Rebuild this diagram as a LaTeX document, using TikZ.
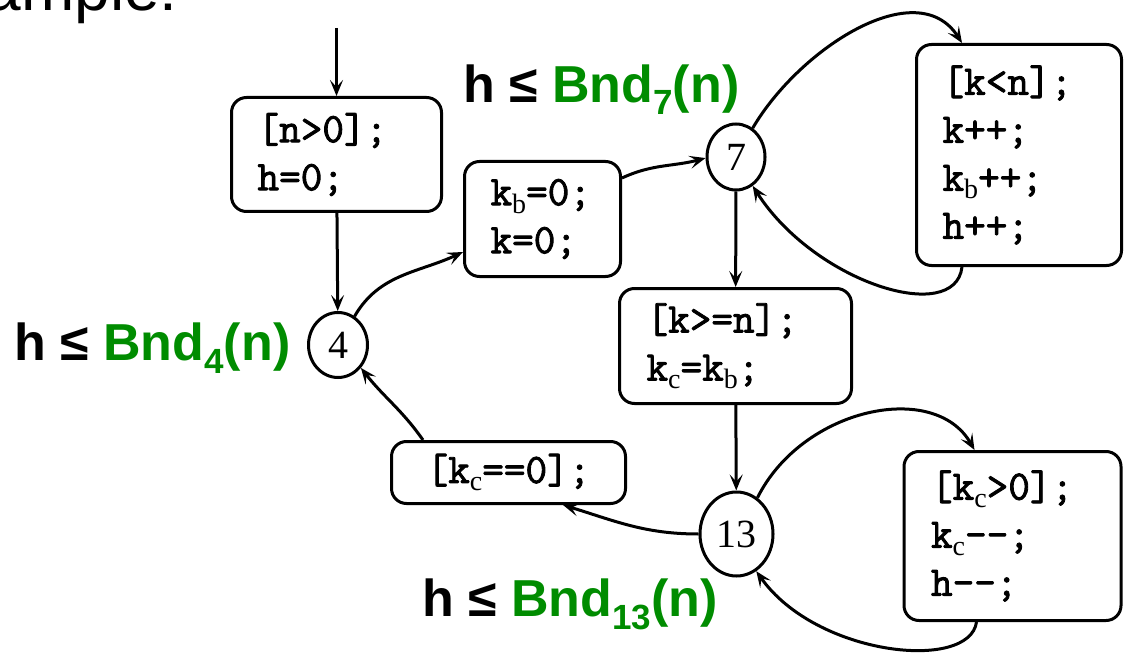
\documentclass[tikz,border=0pt]{standalone}
\usepackage{fontspec}
\usetikzlibrary{shapes.geometric,arrows.meta,calc}
\newfontfamily\lsans{Liberation Sans}
\newfontfamily\tms{Liberation Serif}
\newfontfamily\codefont[FakeBold=2]{Latin Modern Mono}
\definecolor{bndgreen}{RGB}{0,140,0}
\newcommand{\ksub}[1]{\raisebox{-8pt}{\fontsize{28}{28}\tms #1}}
\newcommand{\bndsub}[2]{\raisebox{-#1}{\fontsize{35}{35}\selectfont #2}}
\tikzset{
  box/.style={draw, rounded corners=15pt, line width=3pt,
    font=\fontsize{42}{48}\selectfont\codefont, align=left, inner ysep=0pt},
  st/.style={draw, ellipse, line width=3pt, inner sep=0pt,
    font=\fontsize{40}{40}\selectfont\tms},
  arr/.style={-{Stealth[length=16pt,width=13pt,inset=7pt]}, line width=3pt},
  lab/.style={anchor=base west, inner sep=0pt,
    font=\fontsize{52}{52}\selectfont\lsans\bfseries}
}
\begin{document}
\begin{tikzpicture}[x=1pt,y=1pt]
\useasboundingbox (0,0) rectangle (1126,657);
\clip (0,0) rectangle (1126,657);
\fill[white] (0,0) rectangle (1126,657);

\node[anchor=base east, inner sep=0pt, font=\fontsize{64}{64}\selectfont\lsans] (ex) at (178,646) {Example:};

% nodes
\node[box, minimum width=210pt, minimum height=114pt, text width=158pt, inner xsep=26pt] (A) at (336.5,502.5) {[n>0];\\h=0;};
\node[box, minimum width=156pt, minimum height=115pt, text width=104pt, inner xsep=26pt] (B) at (542.5,438) {k\ksub{b}=0;\\k=0;};
\node[box, minimum width=205pt, minimum height=221pt, text width=153pt, inner xsep=26pt] (C) at (1019,502) {[k<n];\\k++;\\k\ksub{b}++;\\h++;};
\node[box, minimum width=232pt, minimum height=115pt, text width=178pt, inner xsep=27pt] (D) at (735.5,311) {[k>=n];\\k\ksub{c}=k\ksub{b};};
\node[box, minimum width=234pt, minimum height=62pt, align=center] (E) at (508.5,184.5) {[k\ksub{c}==0];};
\node[box, minimum width=217pt, minimum height=169pt, text width=163pt, inner xsep=27pt] (F) at (1012.5,121) {[k\ksub{c}>0];\\k\ksub{c}-\kern0pt-;\\h-\kern0pt-;};

\node[st, minimum width=59pt, minimum height=65pt] (c4) at (338,312) {4};
\node[st, minimum width=58pt, minimum height=66pt] (c7) at (736,500) {7};
\node[st, minimum width=73pt, minimum height=84pt] (c13) at (736.5,123) {13};

% labels
\node[lab] (l4) at (14,297) {h ≤ \textcolor{bndgreen}{Bnd\bndsub{13pt}{4}(n)}};
\node[lab] (l7) at (463,554) {h ≤ \textcolor{bndgreen}{Bnd\bndsub{12pt}{7}(n)}};
\node[lab] (l13) at (422,41) {h ≤ \textcolor{bndgreen}{Bnd\bndsub{13pt}{13}(n)}};

% connectors
\coordinate (in) at (336.5,629);
\draw[arr] (in) -- (A);
\draw[arr] (A) -- (c4);
\draw[arr] (c7) -- (D);
\draw[arr] (D) -- (c13);
\draw[arr] (c4.60) to[out=60,in=205] ($(B.west)+(0,-33)$);
\draw[arr] ($(B.east)+(0,41)$) to[out=25,in=195] (c7.182);
\draw[arr] (c7.60) .. controls +(47,80) and +(-45,70) .. ($(C.north)+(-57,0)$);
\draw[arr] ($(C.south)+(-57,0)$) .. controls +(-7,-59) and +(62,-97) .. (c7.-60);
\draw[arr] (c13.60) .. controls +(45,90) and +(-40,70) .. ($(F.north)+(-38,0)$);
\draw[arr] ($(F.south)+(-36,0)$) .. controls +(-7,-50) and +(60,-85) .. (c13.-62);
\draw[arr] (c13.west) to[out=180,in=-17] ($(E.south)+(54.5,0)$);
\draw[arr] ($(E.north west)+(33,0)$) to[out=125,in=-52] (c4.-45);
\end{tikzpicture}
\end{document}
